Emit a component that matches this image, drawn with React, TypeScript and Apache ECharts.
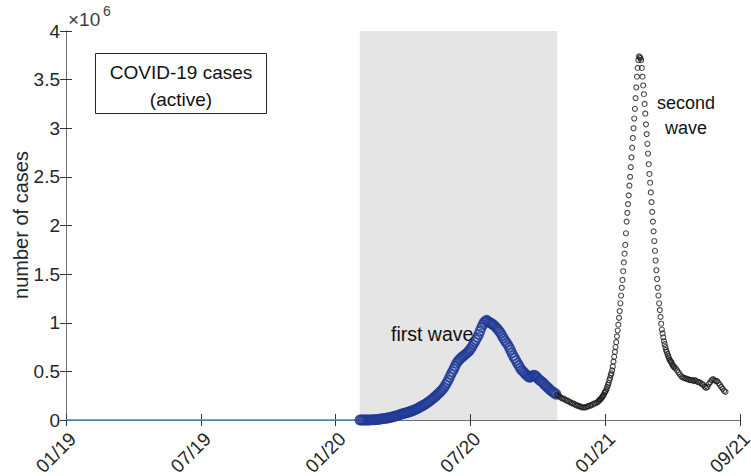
import React, { useEffect, useRef } from "react";
import * as echarts from "echarts";

// x axis: days since 01/01/2019 (ticks evenly spaced every 195 days)
const xTickLabels = ["01/19", "07/19", "01/20", "07/20", "01/21", "09/21"];
const xTickStepDays = 195;
const yTickValues = [0, 0.5, 1, 1.5, 2, 2.5, 3, 3.5, 4];

// zero line before first case
const preOutbreakLine = [
  [0, 0],
  [425, 0],
];

// shaded "first wave" span (days)
const firstWaveSpan = [425, 710.5];

// first wave active cases (millions), every 2 days from day 425
const firstWaveStartDay = 425;
const firstWaveStepDays = 2;
const firstWaveValues = [
  0, 0, 0, 0, 0, 0, 0, 0, 0.001, 0.001, 0.002, 0.003, 0.004, 0.006, 0.008, 0.01,
  0.012, 0.014, 0.016, 0.018, 0.02, 0.023, 0.026, 0.03, 0.033, 0.037, 0.041, 0.045,
  0.05, 0.055, 0.06, 0.064, 0.068, 0.072, 0.076, 0.08, 0.085, 0.09, 0.095, 0.1,
  0.106, 0.113, 0.12, 0.128, 0.136, 0.144, 0.152, 0.16, 0.169, 0.178, 0.188, 0.199,
  0.21, 0.222, 0.234, 0.247, 0.26, 0.274, 0.288, 0.302, 0.318, 0.338, 0.36, 0.385,
  0.41, 0.44, 0.47, 0.497, 0.525, 0.555, 0.585, 0.605, 0.62, 0.635, 0.648, 0.66,
  0.67, 0.682, 0.695, 0.71, 0.73, 0.75, 0.775, 0.8, 0.825, 0.85, 0.88, 0.915, 0.95,
  0.98, 1.005, 1.02, 1.025, 1.01, 1.0, 0.995, 0.985, 0.975, 0.96, 0.945, 0.93, 0.91,
  0.89, 0.865, 0.84, 0.815, 0.795, 0.775, 0.75, 0.72, 0.69, 0.66, 0.635, 0.61,
  0.585, 0.56, 0.535, 0.515, 0.5, 0.485, 0.47, 0.455, 0.445, 0.44, 0.445, 0.455,
  0.46, 0.455, 0.44, 0.425, 0.41, 0.4, 0.39, 0.375, 0.36, 0.345, 0.335, 0.32, 0.305,
  0.295, 0.285, 0.275, 0.265,
];

// second wave (millions): trough every 2 days, peak daily, tail every 2 days
const troughStartDay = 710;
const troughStepDays = 2;
const troughValues = [
  0.26, 0.25, 0.24, 0.23, 0.22, 0.22, 0.21, 0.2, 0.2, 0.19, 0.18, 0.17, 0.17, 0.16,
  0.15, 0.15, 0.14, 0.14, 0.13, 0.13, 0.13, 0.13, 0.14, 0.14, 0.15, 0.15, 0.16, 0.17,
  0.17, 0.18,
];

const peakStartDay = 770;
const peakStepDays = 1;
const peakValues = [
  0.19, 0.2, 0.21, 0.21, 0.22, 0.23, 0.24, 0.25, 0.26, 0.28,
  0.29, 0.3, 0.32, 0.34, 0.36, 0.38, 0.41, 0.43, 0.46, 0.48,
  0.51, 0.55, 0.6, 0.65, 0.7, 0.75, 0.8, 0.86, 0.92, 0.98,
  1.05, 1.12, 1.2, 1.28, 1.36, 1.44, 1.53, 1.62, 1.71, 1.8,
  1.92, 2.04, 2.13, 2.22, 2.31, 2.41, 2.5, 2.6, 2.7, 2.8,
  2.9, 3.0, 3.1, 3.2, 3.31, 3.42, 3.53, 3.62, 3.7, 3.74,
  3.73, 3.72, 3.7, 3.62, 3.53, 3.44, 3.35, 3.25, 3.15, 3.04,
  2.94, 2.84, 2.74, 2.63, 2.53, 2.44, 2.34, 2.24, 2.14, 2.04,
  1.94, 1.84, 1.74, 1.64, 1.54, 1.45, 1.36, 1.28, 1.2, 1.13,
  1.06, 0.99, 0.93, 0.89, 0.85, 0.81, 0.78, 0.75, 0.72, 0.7,
  0.68, 0.66, 0.64, 0.62, 0.61, 0.6, 0.59, 0.57, 0.56, 0.55,
  0.54,
];

const tailStartDay = 882;
const tailStepDays = 2;
const tailValues = [
  0.53, 0.51, 0.49, 0.47, 0.45, 0.44, 0.43, 0.43, 0.42, 0.42, 0.41, 0.41, 0.41, 0.4,
  0.41, 0.4, 0.39, 0.39, 0.38, 0.37, 0.36, 0.34, 0.33, 0.34, 0.37, 0.39, 0.41, 0.42,
  0.41, 0.4, 0.4, 0.38, 0.36, 0.34, 0.32, 0.3, 0.29,
];

const toPoints = (start: number, step: number, vals: number[]) =>
  vals.map((v, i) => [start + i * step, v]);

const FONT = "'Liberation Sans', Arial, Helvetica, sans-serif";
const AXIS_COLOR = "#6e6e6e";
const TEXT_COLOR = "#262626";

export default function App() {
  const ref = useRef<HTMLDivElement>(null);

  useEffect(() => {
    if (!ref.current) return;
    const chart = echarts.init(ref.current, undefined, { renderer: "svg" });

    const xMax = xTickStepDays * (xTickLabels.length - 1);
    const yMax = yTickValues[yTickValues.length - 1];
    const yStep = yTickValues[1] - yTickValues[0];

    const commonX = {
      type: "value" as const,
      min: 0,
      max: xMax,
      interval: xTickStepDays,
      z: 1,
      splitLine: { show: false },
      axisLine: { show: true, lineStyle: { color: AXIS_COLOR, width: 1 } },
      axisTick: { show: true, inside: true, length: 6, lineStyle: { color: "#333" } },
    };
    const commonY = {
      type: "value" as const,
      min: 0,
      max: yMax,
      interval: yStep,
      z: 1,
      splitLine: { show: false },
      axisLine: { show: true, lineStyle: { color: AXIS_COLOR, width: 1 } },
      axisTick: { show: true, inside: true, length: 6, lineStyle: { color: "#333" } },
    };

    const secondWave = [
      ...toPoints(troughStartDay, troughStepDays, troughValues),
      ...toPoints(peakStartDay, peakStepDays, peakValues),
      ...toPoints(tailStartDay, tailStepDays, tailValues),
    ];

    chart.setOption({
      animation: false,
      backgroundColor: "#ffffff",
      grid: {
        left: 66,
        right: 11,
        top: 31,
        bottom: 56,
        containLabel: false,
        outerBoundsMode: "none",
      },
      xAxis: [
        {
          ...commonX,
          position: "bottom",
          axisLabel: {
            show: true,
            rotate: 45,
            align: "right",
            verticalAlign: "top",
            margin: 9,
            fontSize: 19,
            fontFamily: FONT,
            color: TEXT_COLOR,
            formatter: (v: number) => xTickLabels[Math.round(v / xTickStepDays)] ?? "",
          },
        },
        { ...commonX, position: "top", axisLabel: { show: false } },
      ],
      yAxis: [
        {
          ...commonY,
          position: "left",
          axisLabel: {
            show: true,
            margin: 6,
            fontSize: 19,
            fontFamily: FONT,
            color: TEXT_COLOR,
          },
        },
        { ...commonY, position: "right", axisLabel: { show: false } },
      ],
      series: [
        {
          type: "line",
          name: "shade",
          z: 0,
          data: [],
          markArea: {
            silent: true,
            itemStyle: { color: "#e5e5e5" },
            data: [[{ xAxis: firstWaveSpan[0] }, { xAxis: firstWaveSpan[1] }]],
          },
        },
        {
          type: "line",
          z: 2,
          data: preOutbreakLine,
          showSymbol: false,
          symbol: "none",
          clip: false,
          lineStyle: { color: "#3d8fc4", width: 1.5 },
        },
        {
          type: "scatter",
          z: 3,
          clip: false,
          symbol: "circle",
          symbolSize: 9,
          data: toPoints(firstWaveStartDay, firstWaveStepDays, firstWaveValues),
          itemStyle: { color: "rgba(0,0,0,0)", borderColor: "#1f3a96", borderWidth: 1.8 },
        },
        {
          type: "scatter",
          z: 3,
          clip: false,
          symbol: "circle",
          symbolSize: 5,
          data: secondWave,
          itemStyle: { color: "rgba(0,0,0,0)", borderColor: "#1a1a1a", borderWidth: 1.1 },
        },
      ],
      graphic: [
        {
          type: "text",
          left: 68,
          top: 10,
          style: { text: "×10", fontSize: 19, fontFamily: FONT, fill: "#404040" },
        },
        {
          type: "text",
          left: 103,
          top: 4,
          style: { text: "6", fontSize: 14, fontFamily: FONT, fill: "#404040" },
        },
        {
          type: "text",
          x: 21,
          y: 225,
          rotation: Math.PI / 2,
          style: {
            text: "number of cases",
            fontSize: 20,
            fontFamily: FONT,
            fill: TEXT_COLOR,
            align: "center",
            verticalAlign: "middle",
          },
        },
        {
          type: "rect",
          shape: { x: 95.5, y: 53.5, width: 171, height: 60 },
          style: { fill: "#ffffff", stroke: "#262626", lineWidth: 1 },
        },
        {
          type: "text",
          x: 181,
          y: 86,
          style: {
            text: "COVID-19 cases\n(active)",
            fontSize: 19,
            lineHeight: 27,
            fontFamily: FONT,
            fill: "#111111",
            align: "center",
            verticalAlign: "middle",
          },
        },
        {
          type: "text",
          x: 391,
          y: 334,
          z: 10,
          style: {
            text: "first wave",
            fontSize: 19.5,
            fontFamily: FONT,
            fill: "#111111",
            align: "left",
            verticalAlign: "middle",
          },
        },
        {
          type: "text",
          x: 686,
          y: 115,
          z: 10,
          style: {
            text: "second\nwave",
            fontSize: 18,
            lineHeight: 25,
            fontFamily: FONT,
            fill: "#111111",
            align: "center",
            verticalAlign: "middle",
          },
        },
      ],
    });

    return () => chart.dispose();
  }, []);

  return (
    <div
      ref={ref}
      style={{ position: "absolute", left: 0, top: 0, width: 751, height: 476 }}
    />
  );
}
